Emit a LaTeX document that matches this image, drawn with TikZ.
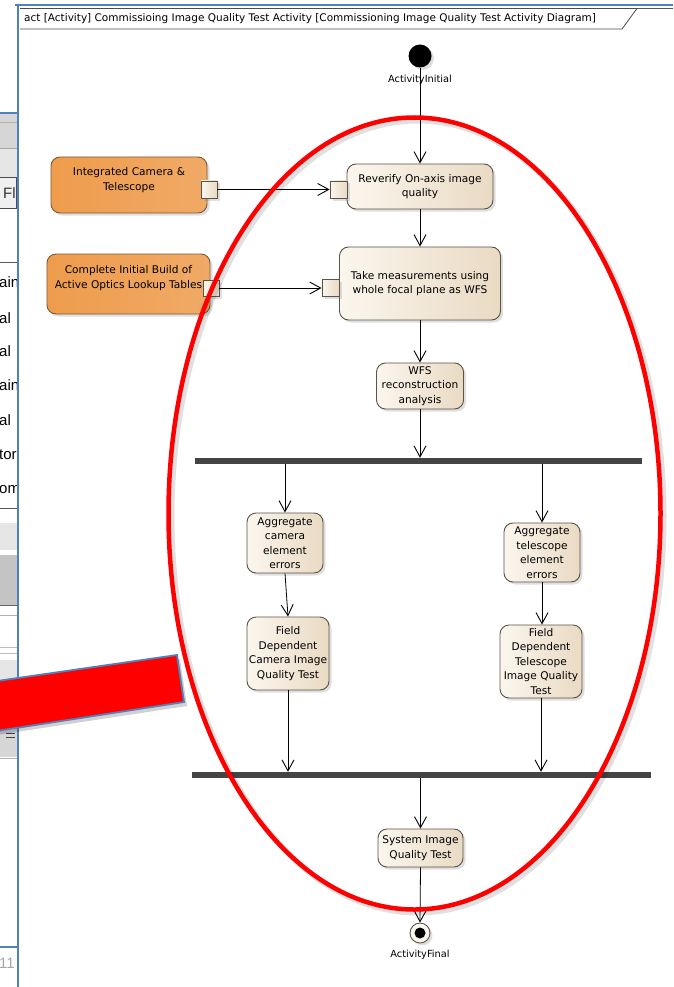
\documentclass[tikz,border=0pt]{standalone}
\usepackage{fontspec}
\setmainfont{DejaVu Sans}
\newfontfamily\uifont{Liberation Sans}
\usetikzlibrary{arrows.meta,shadows}

\definecolor{actL}{HTML}{FBF6EE}
\definecolor{actR}{HTML}{E9DAC3}
\definecolor{boxline}{HTML}{5A5346}
\definecolor{orgL}{HTML}{EF9C4C}
\definecolor{orgR}{HTML}{F0AA66}
\definecolor{orgline}{HTML}{7A5A3A}
\definecolor{barcol}{HTML}{444444}
\definecolor{winblue}{HTML}{4F81BD}
\definecolor{panelA}{HTML}{D6D6D6}
\definecolor{panelB}{HTML}{E6E6E6}
\definecolor{panelC}{HTML}{C4C4C4}

\tikzset{
  boxsize/.style 2 args={minimum width=#1, minimum height=#2},
  softshadow/.style={drop shadow={opacity=0.25, shadow xshift=2.5pt, shadow yshift=-2.5pt}},
  nodefont/.style={font=\fontsize{10.6}{14.5}\selectfont},
  act/.style={draw=boxline, line width=0.9pt, rounded corners=9pt,
    left color=actL, right color=actR, softshadow, align=center,
    inner sep=0pt, nodefont},
  ext/.style={act, draw=orgline, left color=orgL, right color=orgR},
  exttext/.style={align=center, inner sep=0pt, nodefont},
  pinbox/.style={draw=boxline, line width=0.9pt, left color=actL, right color=actR,
    inner sep=0pt, softshadow},
  barnode/.style={fill=barcol, inner sep=0pt, minimum height=6pt},
  flow/.style={-{Straight Barb[length=11pt,width=12pt,line width=0.9pt]}, line width=0.8pt},
  lbl/.style={font=\fontsize{9.8}{11}\selectfont, inner sep=0pt},
  uitext/.style={font=\uifont\fontsize{15}{15}\selectfont, inner sep=0pt, anchor=west},
  panelline/.style={line width=0.8pt, draw=#1},
}

\begin{document}
\begin{tikzpicture}[x=1pt,y=-1pt]
\useasboundingbox (0,0) rectangle (673,987);
\fill[white] (0,0) rectangle (673,987);

% ---- window strip on the left edge ----
\begin{scope}
  \clip (0,0) rectangle (17,987);
  \fill[panelA] (0,113) rectangle (17,148);
  \fill[panelB] (0,148) rectangle (17,177);
  \draw[winblue, line width=1.5pt] (0,113) -- (17,113);
  \draw[panelline=gray!60] (0,122) -- (17,122);
  \draw[panelline=gray!70] (0,148) -- (17,148);
  \draw[fill=gray!12, draw=gray!60!black, line width=0.8pt] (-5,177) rectangle (16,208);
  \node[uitext, text=black!80] (tabF) at (3,193) {Fl};
  \draw[panelline=gray!70!black] (0,262) -- (17,262);
  \node[uitext] (rowA) at (-1,282) {ain};
  \node[uitext] (rowB) at (-1,318) {al};
  \node[uitext] (rowC) at (-1,351) {al};
  \node[uitext] (rowD) at (-1,385) {ain};
  \node[uitext] (rowE) at (-1,420) {al};
  \node[uitext] (rowF) at (-1,455) {tor};
  \node[uitext] (rowG) at (-1,490) {om};
  \draw[panelline=gray!70!black] (0,508) -- (17,508);
  \fill[panelB] (0,523) rectangle (17,550);
  \fill[panelC] (0,555) rectangle (17,605);
  \draw[panelline=gray!80!black] (0,605) -- (17,605);
  \draw[panelline=gray!60] (0,615) -- (17,615);
  \draw[panelline=gray!50] (0,647) -- (17,647);
  \draw[panelline=gray!50] (0,653) -- (17,653);
  \fill[panelB] (0,660) rectangle (17,680);
  \fill[panelA] (0,680) rectangle (17,757);
  \draw[line width=1pt, black!75] (6,733) -- (15,733) (6,737.5) -- (15,737.5);
  \draw[panelline=gray!60] (0,758) -- (17,758);
  \draw[winblue, line width=1.2pt] (0,947) -- (17,947);
  \node[uitext, text=gray!70] (pageno) at (-1,963) {11};
\end{scope}

% ---- window borders ----
\draw[winblue, line width=2pt] (18,4) -- (18,987);
\draw[winblue, line width=2pt] (15,5) -- (673,5);
\draw[gray!70!black, line width=0.6pt] (20,8.5) -- (673,8.5);

% ---- diagram frame header ----
\draw[black!70, line width=0.8pt, fill=white] (20,8.5) -- (637,8.5) -- (622,29) -- (20,29);
\node[anchor=west, inner sep=0pt, font=\fontsize{10.5}{12}\selectfont] (title) at (24,19)
  {act [Activity] Commissioing Image Quality Test Activity [Commissioning Image Quality Test Activity Diagram]};

% ---- nodes ----
\node[circle, fill=black, minimum size=23pt, inner sep=0pt, softshadow] (init) at (420,56) {};
\node[lbl] (initlbl) at (420,80) {ActivityInitial};

\node[act, boxsize={146pt}{45pt}] (reverify) at (420,186.5) {Reverify On-axis image\\quality};
\node[act, boxsize={161pt}{73pt}] (take) at (420,283.5) {Take measurements using\\whole focal plane as WFS};
\node[act, boxsize={87pt}{46pt}] (wfs) at (420,386) {WFS\\reconstruction\\analysis};

\node[ext, boxsize={156pt}{56pt}] (integ) at (129,185) {};
\node[exttext] (integtext) at (129,180) {Integrated Camera \&\\Telescope};
\node[ext, boxsize={163pt}{60pt}] (build) at (128.5,284) {};
\node[exttext] (buildtext) at (128.5,278) {Complete Initial Build of\\Active Optics Lookup Tables};

\node[pinbox, minimum width=16pt, minimum height=17pt] (pinA) at (209,189.5) {};
\node[pinbox, minimum size=17pt] (pinB) at (338.5,189.5) {};
\node[pinbox, minimum size=16pt] (pinC) at (211,288) {};
\node[pinbox, minimum size=17pt] (pinD) at (330.5,288) {};

\node[barnode, minimum width=447pt] (fork) at (418.5,461) {};

\node[act, boxsize={76pt}{60pt}] (aggc) at (285,543) {Aggregate\\camera\\element\\errors};
\node[act, boxsize={76pt}{59pt}] (aggt) at (542,552.5) {Aggregate\\telescope\\element\\errors};
\node[act, boxsize={82pt}{73pt}] (fdc) at (288,653.5) {Field\\Dependent\\Camera Image\\Quality Test};
\node[act, boxsize={82pt}{73pt}] (fdt) at (541,661.5) {Field\\Dependent\\Telescope\\Image Quality\\Test};

\node[barnode, minimum width=459pt] (join) at (421.5,775) {};

\node[act, boxsize={85pt}{38pt}] (sys) at (420.5,848) {System Image\\Quality Test};

\node[circle, draw=boxline, line width=0.9pt, fill=actL, minimum size=20pt, inner sep=0pt, softshadow] (final) at (420,933) {};
\node[circle, fill=black, minimum size=11pt, inner sep=0pt] (finaldot) at (final.center) {};
\node[lbl] (finallbl) at (420,955) {ActivityFinal};

% ---- control flows ----
\draw[flow] (init) -- (reverify.north);
\draw[flow] (pinA.east) -- (pinB.west);
\draw[flow] (pinC.east) -- (pinD.west);
\draw[flow] (reverify.south) -- (take.north);
\draw[flow] (take.south) -- (wfs.north);
\draw[flow] (wfs.south) -- (wfs.south |- fork.north);
\draw[flow] (aggc.north |- fork.south) -- (aggc.north);
\draw[flow] (aggt.north |- fork.south) -- (aggt.north);
\draw[flow] (aggc.south) -- (fdc.north);
\draw[flow] (aggt.south) -- (aggt.south |- fdt.north);
\draw[flow] (fdc.south) -- (fdc.south |- join.north);
\draw[flow] (fdt.south) -- (fdt.south |- join.north);
\draw[flow] (sys.north |- join.south) -- (sys.north);
\draw[flow] (sys.south) -- (final.north);

% ---- red highlight ellipse ----
\draw[black, opacity=0.12, line width=6pt] (417.5,516.5) ellipse [x radius=246pt, y radius=396pt];
\draw[red, line width=4.5pt] (414.5,513.5) ellipse [x radius=246pt, y radius=396pt];

% ---- red pointer bar ----
\fill[black, opacity=0.18] (-10,686) -- (180,659) -- (187,706) -- (-10,736) -- cycle;
\draw[winblue, line width=1.8pt, fill=red] (-10,682) -- (177,655) -- (184,702) -- (-10,732) -- cycle;
\end{tikzpicture}
\end{document}
